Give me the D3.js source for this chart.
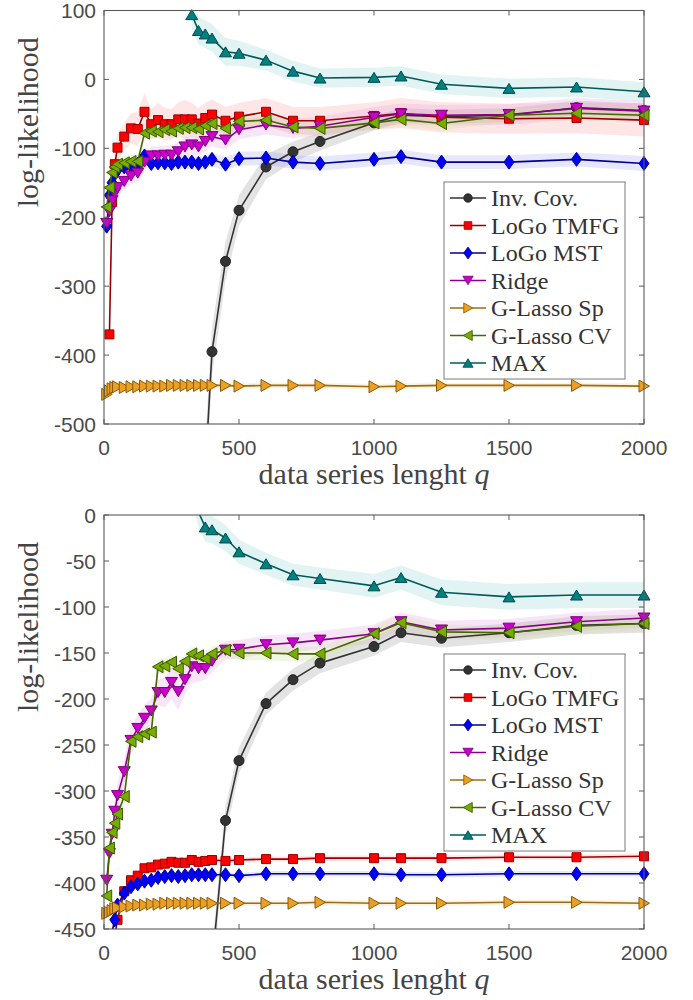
<!DOCTYPE html>
<html><head><meta charset="utf-8">
<script src="https://cdn.jsdelivr.net/npm/d3@7"></script>
<style>
html,body{margin:0;padding:0;background:#fff;}
svg{display:block;}
</style></head>
<body>
<svg id="chart" width="693" height="1000"></svg>
<script>
// ---------- DATA ----------
const qValues = [10,20,30,40,50,75,100,125,150,175,200,225,250,275,300,325,350,375,400,450,500,600,700,800,1000,1100,1250,1500,1750,2000];
const seriesNames = ["Inv. Cov.","LoGo TMFG","LoGo MST","Ridge","G-Lasso Sp","G-Lasso CV","MAX"];
const N = null;

// top panel
const invCovTop = [N,N,N,N,N,N,N,N,N,N,N,N,N,N,N,N,N,-570,-395,-264,-190,-127,-105,-90,-63,-52,-54,-52,-41,-45];
const tmfgTop   = [N,-370,-178,-123,-99,-83,-71,-72,-47,-65,-59,-65,-65,-58,-58,-58,-64,-56,-51,-60,-54,-47,-60,-60,-53,-49,-55,-57,-56,-59];
const mstTop    = [-213,-168,-150,-137,-131,-127,-125,-123,-111,-122,-121,-121,-122,-120,-120,-120,-122,-120,-116,-123,-115,-114,-120,-122,-116,-112,-120,-120,-116,-122];
const ridgeTop  = [-209,-192,-176,-165,-157,-148,-140,-136,-120,-111,-111,-110,-110,-105,-98,-95,-98,-90,-83,-88,-73,-66,-71,-68,-55,-50,-52,-51,-42,-46];
const spTop     = [-457,-452,-449,-447,-446,-447,-446,-446,-445,-445,-445,-445,-444,-444,-444,-444,-444,-444,-444,-444,-445,-444,-444,-444,-446,-445,-444,-444,-444,-445];
const cvTop     = [-185,-157,-135,-127,-123,-121,-119,-119,-78,-75,-76,-73,-75,-71,-70,-70,-72,-67,-64,-71,-61,-59,-69,-71,-63,-58,-64,-52,-49,-52];
const maxTop    = [N,N,N,N,N,N,N,N,N,N,N,N,N,N,N,94,71,66,60,40,38,28,12,2,3,5,-7,-13,-11,-18];

const invCovTopErr = [N,N,N,N,N,N,N,N,N,N,N,N,N,N,N,N,N,45,35,28,22,18,15,13,11,10,10,10,10,10];
const tmfgTopErr   = [0,15,25,22,20,20,22,25,28,22,25,24,22,25,28,24,22,22,22,20,20,20,20,20,20,22,22,22,22,24];
const mstTopErr    = [10,10,10,10,10,10,10,10,10,10,10,10,10,10,10,10,10,10,10,10,10,10,10,10,10,10,10,10,10,11];
const ridgeTopErr  = [12,12,12,12,12,12,12,12,12,14,14,14,14,14,14,14,14,14,14,14,14,14,14,14,15,15,15,15,15,15];
const spTopErr     = [8,6,5,5,4,4,4,4,4,4,4,4,4,4,4,4,4,4,4,4,4,4,4,4,4,4,4,4,4,4];
const cvTopErr     = [10,10,10,10,10,10,10,10,10,10,10,10,10,10,10,10,10,10,10,10,10,10,10,10,10,10,10,10,10,10];
const maxTopErr    = [N,N,N,N,N,N,N,N,N,N,N,N,N,N,N,20,20,20,20,20,18,15,15,14,14,14,14,14,14,14];

// bottom panel
const invCovBot = [N,N,N,N,N,N,N,N,N,N,N,N,N,N,N,N,N,N,-490,-332,-267,-205,-179,-161,-143,-128,-134,-128,-120,-118];
const tmfgBot   = [N,N,N,-457,-440,-409,-397,-392,-384,-383,-380,-379,-377,-378,-378,-375,-377,-376,-375,-376,-375,-374,-374,-373,-373,-373,-373,-372,-372,-371];
const mstBot    = [N,-500,-453,-440,-424,-411,-404,-401,-398,-397,-394,-393,-392,-393,-392,-391,-391,-391,-391,-391,-392,-390,-390,-390,-390,-391,-391,-390,-390,-390];
const ridgeBot  = [-397,-368,-347,-322,-305,-279,-245,-232,-221,-213,-193,-193,-182,-192,-179,-165,-167,-167,-159,-147,-146,-141,-139,-136,-129,-116,-125,-123,-116,-112];
const spBot     = [-433,-432,-430,-428,-427,-426,-425,-424,-424,-423,-423,-422,-422,-422,-422,-422,-422,-422,-422,-422,-422,-422,-422,-421,-422,-422,-422,-421,-421,-422];
const cvBot     = [-414,-362,-345,-335,-325,-306,-246,-241,-238,-236,-165,-164,-160,-167,-159,-151,-153,-156,-151,-147,-150,-150,-151,-151,-129,-117,-127,-128,-121,-118];
const maxBot    = [N,N,N,N,N,30,N,N,N,N,N,N,N,N,N,30,3,-13,-16,-25,-40,-53,-65,-69,-77,-68,-84,-89,-87,-87].map((v,i)=> i<15 ? N : v);

const invCovBotErr = [N,N,N,N,N,N,N,N,N,N,N,N,N,N,N,N,N,N,20,16,14,12,12,11,10,10,10,10,10,10];
const tmfgBotErr   = [3,3,3,3,3,3,3,3,3,3,3,3,3,3,3,3,3,3,3,3,3,3,3,3,3,3,3,3,3,3];
const mstBotErr    = [3,3,3,3,3,3,3,3,3,3,3,3,3,3,3,3,3,3,3,3,3,3,3,3,3,3,3,3,3,3];
const ridgeBotErr  = [10,10,10,12,14,15,15,15,14,14,14,16,18,20,16,18,14,12,12,10,10,10,10,10,10,10,10,10,10,10];
const spBotErr     = [4,3,3,3,3,3,3,3,3,3,3,3,3,3,3,3,3,3,3,3,3,3,3,3,3,3,3,3,3,3];
const cvBotErr     = [10,9,8,8,8,8,8,8,8,8,8,8,8,8,8,8,8,8,8,8,8,8,8,8,8,8,8,8,8,8];
const maxBotErr    = [N,N,N,N,N,N,N,N,N,N,N,N,N,N,N,16,16,16,15,14,13,12,12,12,13,13,14,14,14,14];

const topYTicks = [100,0,-100,-200,-300,-400,-500];
const botYTicks = [0,-50,-100,-150,-200,-250,-300,-350,-400,-450];
const xTicks = [0,500,1000,1500,2000];

// ---------- STYLES ----------
const styles = [
  {marker:"circle",  line:"#333333", fill:"#333333", edge:"#222222", band:"#9a9a9a", bandOp:0.28},
  {marker:"square",  line:"#9b0000", fill:"#ff0000", edge:"#9b0000", band:"#ff8c8c", bandOp:0.22},
  {marker:"diamond", line:"#00008f", fill:"#0000ff", edge:"#00008f", band:"#8c8cff", bandOp:0.22},
  {marker:"tridown", line:"#8a008a", fill:"#cc00cc", edge:"#7a007a", band:"#e39be3", bandOp:0.25},
  {marker:"triright",line:"#a06b10", fill:"#eba025", edge:"#8a5a08", band:"#f5dca0", bandOp:0.3},
  {marker:"trileft", line:"#466600", fill:"#77ac00", edge:"#3c5a00", band:"#cfe0a0", bandOp:0.3},
  {marker:"triup",   line:"#005a5a", fill:"#008080", edge:"#004a4a", band:"#9fd6d6", bandOp:0.3}
];

function markerPath(type){
  switch(type){
    case "circle": return d3.symbol(d3.symbolCircle, Math.PI*25)();
    case "square": return "M-4.5,-4.5H4.5V4.5H-4.5Z";
    case "diamond": return "M0,-7L5,0L0,7L-5,0Z";
    case "triup": return "M0,-5L6,5L-6,5Z";
    case "tridown": return "M0,5L6,-5L-6,-5Z";
    case "triright": return "M5.5,0L-5,-6L-5,6Z";
    case "trileft": return "M-5.5,0L5,-6L5,6Z";
  }
}

const svg = d3.select("#chart");
const W = 693;
const L = 104, R = 644;
const x = d3.scaleLinear().domain([0,2000]).range([L,R]);

function panel(cfg, idx){
  const y = d3.scaleLinear().domain(cfg.domain).range([cfg.bottom, cfg.top]);
  const g = svg.append("g");
  const clipId = "clip"+idx;
  g.append("clipPath").attr("id",clipId).append("rect")
    .attr("x",L).attr("y",cfg.top).attr("width",R-L).attr("height",cfg.bottom-cfg.top);

  // bands
  const bands = g.append("g").attr("clip-path",`url(#${clipId})`);
  cfg.series.forEach((s,k)=>{
    const st = styles[k];
    const pts = qValues.map((q,i)=>({q, v:s.v[i], e:s.e[i]})).filter(d=>d.v!==null && d.e!==null);
    const area = d3.area().x(d=>x(d.q)).y0(d=>y(d.v-d.e)).y1(d=>y(d.v+d.e));
    bands.append("path").attr("d",area(pts)).attr("fill",st.band).attr("fill-opacity",st.bandOp).attr("stroke","none");
  });

  // lines + markers
  cfg.series.forEach((s,k)=>{
    const st = styles[k];
    const pts = qValues.map((q,i)=>({q, v:s.v[i]})).filter(d=>d.v!==null);
    const line = d3.line().x(d=>x(d.q)).y(d=>y(d.v));
    g.append("path").attr("clip-path",`url(#${clipId})`).attr("d",line(pts))
      .attr("fill","none").attr("stroke",st.line).attr("stroke-width",1.6).attr("stroke-linejoin","round");
    const inDom = pts.filter(d=>d.v>=cfg.domain[0] && d.v<=cfg.domain[1]);
    g.selectAll(null).data(inDom).enter().append("path")
      .attr("d",markerPath(st.marker))
      .attr("transform",d=>`translate(${x(d.q)},${y(d.v)})`)
      .attr("fill",st.fill).attr("stroke",st.edge).attr("stroke-width",1);
  });

  // axes box
  const axC = "#5a5a5a";
  g.append("rect").attr("x",L).attr("y",cfg.top).attr("width",R-L).attr("height",cfg.bottom-cfg.top)
    .attr("fill","none").attr("stroke",axC).attr("stroke-width",1.1);
  const tl = 5;
  xTicks.forEach(t=>{
    g.append("line").attr("x1",x(t)).attr("x2",x(t)).attr("y1",cfg.bottom).attr("y2",cfg.bottom-tl).attr("stroke",axC);
    g.append("line").attr("x1",x(t)).attr("x2",x(t)).attr("y1",cfg.top).attr("y2",cfg.top+tl).attr("stroke",axC);
    g.append("text").attr("x",x(t)).attr("y",cfg.bottom+31).attr("text-anchor","middle")
      .attr("font-family","'Liberation Sans', Arial, sans-serif").attr("font-size",21).attr("fill","#4a4a4a").text(t);
  });
  cfg.yTicks.forEach(t=>{
    g.append("line").attr("x1",L).attr("x2",L+tl).attr("y1",y(t)).attr("y2",y(t)).attr("stroke",axC);
    g.append("line").attr("x1",R).attr("x2",R-tl).attr("y1",y(t)).attr("y2",y(t)).attr("stroke",axC);
    g.append("text").attr("x",96).attr("y",y(t)+7.5).attr("text-anchor","end")
      .attr("font-family","'Liberation Sans', Arial, sans-serif").attr("font-size",21).attr("fill","#4a4a4a").text(t);
  });

  // axis labels
  const xl = g.append("text").attr("x",(L+R)/2).attr("y",cfg.bottom+60).attr("text-anchor","middle")
    .attr("font-family","'Liberation Serif', 'Times New Roman', serif").attr("font-size",30).attr("fill","#444");
  xl.append("tspan").text("data series lenght ");
  xl.append("tspan").attr("font-style","italic").text("q");
  g.append("text").attr("transform",`translate(38,${(cfg.top+cfg.bottom)/2 - 95}) rotate(-90)`)
    .attr("text-anchor","middle")
    .attr("font-family","'Liberation Serif', 'Times New Roman', serif").attr("font-size",30).attr("fill","#444")
    .text("log-likelihood");

  // legend
  const lg = g.append("g");
  const lx = 444, lw = 181, ly = cfg.legendTop, lh = 197;
  lg.append("rect").attr("x",lx).attr("y",ly).attr("width",lw).attr("height",lh)
    .attr("fill","#fff").attr("stroke","#7a7a7a").attr("stroke-width",1);
  seriesNames.forEach((name,k)=>{
    const st = styles[k];
    const cy = ly + 16 + k*27.5;
    lg.append("line").attr("x1",450).attr("x2",486).attr("y1",cy).attr("y2",cy).attr("stroke",st.line).attr("stroke-width",1.4);
    lg.append("path").attr("d",markerPath(st.marker)).attr("transform",`translate(468,${cy}) scale(0.85)`)
      .attr("fill",st.fill).attr("stroke",st.edge).attr("stroke-width",1);
    lg.append("text").attr("x",491).attr("y",cy+8).attr("font-family","'Liberation Serif', 'Times New Roman', serif")
      .attr("font-size",24).attr("fill","#333").text(name);
  });
}

panel({
  domain:[-500,100], top:10.5, bottom:424, yTicks:topYTicks, legendTop:182,
  series:[
    {v:invCovTop,e:invCovTopErr},{v:tmfgTop,e:tmfgTopErr},{v:mstTop,e:mstTopErr},{v:ridgeTop,e:ridgeTopErr},
    {v:spTop,e:spTopErr},{v:cvTop,e:cvTopErr},{v:maxTop,e:maxTopErr}
  ]
},0);

panel({
  domain:[-450,0], top:515, bottom:929, yTicks:botYTicks, legendTop:654,
  series:[
    {v:invCovBot,e:invCovBotErr},{v:tmfgBot,e:tmfgBotErr},{v:mstBot,e:mstBotErr},{v:ridgeBot,e:ridgeBotErr},
    {v:spBot,e:spBotErr},{v:cvBot,e:cvBotErr},{v:maxBot,e:maxBotErr}
  ]
},1);
</script>
</body></html>
